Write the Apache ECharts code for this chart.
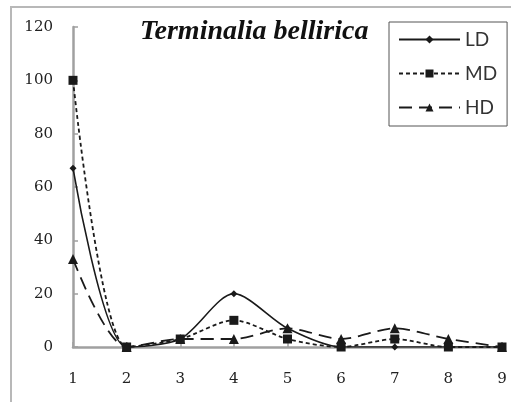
<!DOCTYPE html>
<html><head><meta charset="utf-8">
<script src="https://cdn.jsdelivr.net/npm/echarts@6/dist/echarts.min.js"></script>
<style>html,body{margin:0;padding:0;background:#fff}#c{width:511px;height:402px}</style>
</head><body><div id="c"></div>
<script>
var categories = ['1','2','3','4','5','6','7','8','9'];
var ldValues = [67, 0, 3, 20, 7, 0, 0, 0, 0];
var mdValues = [100, 0, 3, 10, 3, 0, 3, 0, 0];
var hdValues = [33, 0, 3, 3, 7, 3, 7, 3, 0];
var yTicks = [0, 20, 40, 60, 80, 100, 120];
var seriesNames = ['LD', 'MD', 'HD'];
var titleText = 'Terminalia bellirica';

var chart = echarts.init(document.getElementById('c'), null, {renderer: 'canvas'});
var lineColor = '#1a1a1a';
function mk(name, data, type, symbol, size, width) {
  return {
    name: name, type: 'line', data: data, smooth: 0.28,
    symbol: symbol, symbolSize: size,
    lineStyle: {color: lineColor, width: width, type: type},
    itemStyle: {color: lineColor},
    emphasis: {disabled: true}, animation: false, z: 3
  };
}
chart.setOption({
  animation: false,
  backgroundColor: '#fff',
  graphic: [{type: 'rect', shape: {x: 11, y: 7, width: 540, height: 440},
    style: {fill: 'none', stroke: '#b8b8b8', lineWidth: 2}, z: -1}],
  title: {text: titleText, left: 135, top: 13,
    textStyle: {fontFamily: 'Liberation Serif', fontStyle: 'italic', fontWeight: 'bold', fontSize: 28, color: '#111'}},
  legend: {
    data: seriesNames, orient: 'vertical', left: 389, top: 22,
    padding: [8, 10, 9, 9], itemGap: 15, itemWidth: 61, itemHeight: 10,
    borderColor: '#555', borderWidth: 1, backgroundColor: '#fff',
    textStyle: {fontFamily: 'Lato', fontSize: 19, color: '#333'}
  },
  grid: {left: 73, right: 9, top: 27, bottom: 55, containLabel: false},
  xAxis: {
    type: 'category', data: categories, boundaryGap: false,
    axisLine: {lineStyle: {color: '#a0a0a0', width: 2.5}},
    axisTick: {show: true, inside: true, length: 5, lineStyle: {color: '#a0a0a0', width: 1.5}},
    axisLabel: {margin: 25, fontFamily: 'DejaVu Serif', fontSize: 15, color: '#222'},
    splitLine: {show: false}
  },
  yAxis: {
    type: 'value', min: 0, max: 120, interval: 20,
    axisLine: {show: true, lineStyle: {color: '#a0a0a0', width: 2.5}},
    axisTick: {show: true, inside: true, length: 5, lineStyle: {color: '#a0a0a0', width: 1.5}},
    axisLabel: {margin: 20, fontFamily: 'DejaVu Serif', fontSize: 15, color: '#222',
      formatter: function (v) { return yTicks.indexOf(v) >= 0 ? String(v) : ''; }},
    splitLine: {show: false}
  },
  series: [
    mk(seriesNames[0], ldValues, 'solid', 'diamond', 7, 1.6),
    mk(seriesNames[1], mdValues, [4, 3], 'rect', 9, 1.8),
    mk(seriesNames[2], hdValues, [13, 7], 'triangle', 10, 1.8)
  ]
});
</script></body></html>
